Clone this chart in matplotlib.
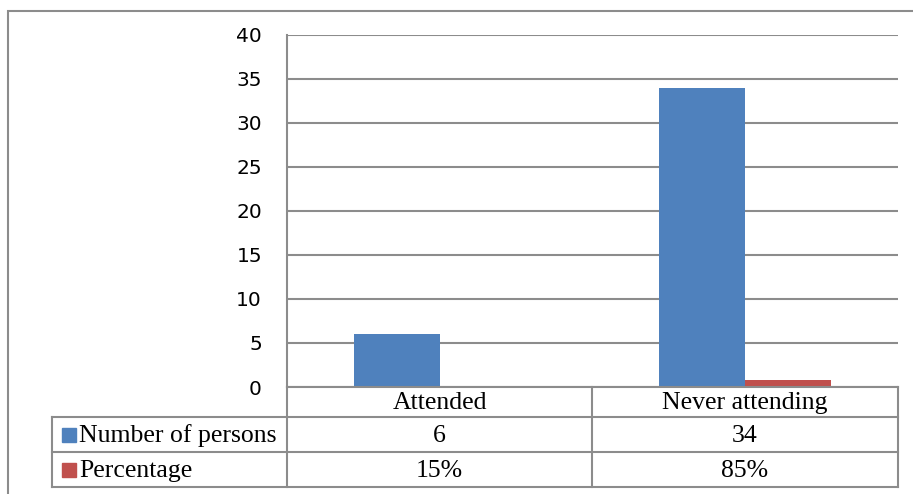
import matplotlib
matplotlib.use('Agg')
import matplotlib.pyplot as plt
from matplotlib.lines import Line2D
from matplotlib.patches import Rectangle
import numpy as np

categories = ['Attended', 'Never attending']
persons = [6, 34]
percentage = [0.15, 0.85]
pct_labels = ['15%', '85%']
series_names = ['Number of persons', 'Percentage']
yticks = [0, 5, 10, 15, 20, 25, 30, 35, 40]

blue = '#4F81BD'
red = '#C0504D'
grey = '#8C8C8C'

W, H = 913, 494
fig = plt.figure(figsize=(W / 100, H / 100), dpi=100)


def fx(px):
    return px / W


def fy(py):
    return 1 - py / H


# plot area in pixels
left, right, top, bottom = 287, 898, 35, 387
ax = fig.add_axes([fx(left), fy(bottom), fx(right - left), fy(top) - fy(bottom)])

x = np.arange(len(categories))
bw = 0.2815
ax.bar(x - bw / 2, persons, width=bw, color=blue, zorder=3)
ax.bar(x + bw / 2, percentage, width=bw, color=red, zorder=3)

ax.set_xlim(-0.5, len(categories) - 0.5)
ax.set_ylim(0, 40)
ax.set_yticks(yticks)
ax.set_yticklabels([str(t) for t in yticks], fontsize=14.5, family='DejaVu Sans')
ax.tick_params(axis='y', length=0, pad=18)
ax.set_xticks([])
ax.yaxis.grid(True, color=grey, linewidth=1.5, zorder=0)
for s in ['top', 'right', 'bottom']:
    ax.spines[s].set_visible(False)
ax.spines['left'].set_color(grey)
ax.spines['left'].set_linewidth(1.5)

# outer chart border
fig.add_artist(Rectangle((fx(8), -0.1), 1.2, fy(11) + 0.1, transform=fig.transFigure,
                         fill=False, edgecolor=grey, linewidth=1.5))


def hline(y, x0, x1):
    fig.add_artist(Line2D([fx(x0), fx(x1)], [fy(y), fy(y)], color=grey, linewidth=1.5))


def vline(xp, y0, y1):
    fig.add_artist(Line2D([fx(xp), fx(xp)], [fy(y0), fy(y1)], color=grey, linewidth=1.5))


# data table
rows_y = [387, 417, 452, 487]
col_x = [left, 592, right]
hline(rows_y[0], left, right)
for yy in rows_y[1:]:
    hline(yy, 52, right)
for xx in col_x:
    vline(xx, rows_y[0], rows_y[-1])
vline(52, rows_y[1], rows_y[-1])

tfont = dict(family='Liberation Serif', fontsize=18.5, color='black')
for i, cat in enumerate(categories):
    cx = (col_x[i] + col_x[i + 1]) / 2
    fig.text(fx(cx), fy((rows_y[0] + rows_y[1]) / 2 + 1), cat, ha='center', va='center', **tfont)
    fig.text(fx(cx), fy((rows_y[1] + rows_y[2]) / 2 + 1), str(persons[i]), ha='center', va='center', **tfont)
    fig.text(fx(cx), fy((rows_y[2] + rows_y[3]) / 2 + 1), pct_labels[i], ha='center', va='center', **tfont)

for j, (name, col) in enumerate(zip(series_names, [blue, red])):
    cy = (rows_y[j + 1] + rows_y[j + 2]) / 2
    fig.add_artist(Rectangle((fx(62), fy(cy + 7)), fx(14), fy(cy - 7) - fy(cy + 7),
                             transform=fig.transFigure, color=col))
    fig.text(fx(79), fy(cy + 1), name, ha='left', va='center', **tfont)

fig.savefig('out.png', dpi=100)
